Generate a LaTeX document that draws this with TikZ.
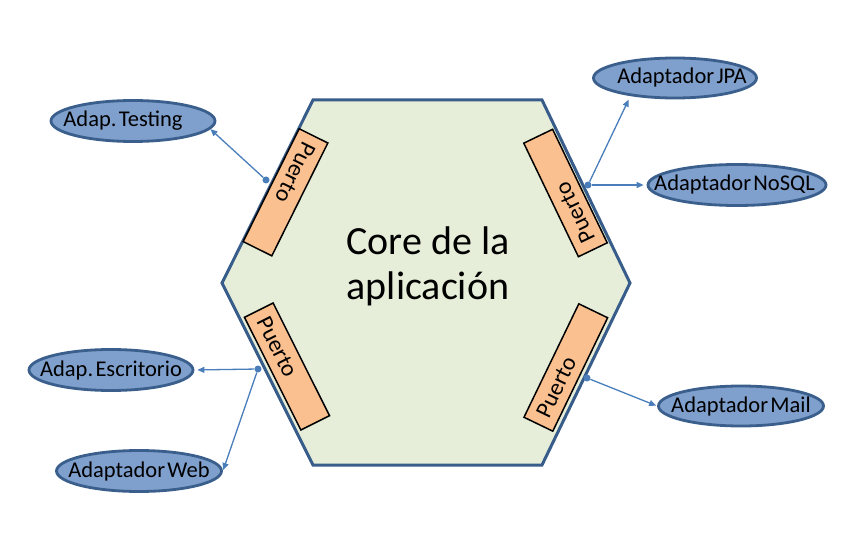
\documentclass[tikz,border=0pt]{standalone}
\usepackage{fontspec}
\setmainfont{Carlito}
\usetikzlibrary{arrows.meta,shapes.geometric}
\definecolor{hexfill}{HTML}{E6EED9}
\definecolor{hexline}{HTML}{385D8A}
\definecolor{portfill}{HTML}{FAC090}
\definecolor{adfill}{HTML}{7F9FCC}
\definecolor{adline}{HTML}{3A5F8C}
\definecolor{conn}{HTML}{4A7EBB}
\newcommand\wgap{\hspace*{2.3pt}}
\begin{document}
\begin{tikzpicture}[x=1pt,y=-1pt,
  portbox/.style={draw=black, line width=1.5pt, fill=portfill, minimum width=126pt,
    minimum height=32pt, inner sep=0pt, font=\fontsize{23.5}{26}\selectfont},
  adapter/.style={ellipse, draw=adline, line width=2.8pt, fill=adfill, minimum width=164pt,
    minimum height=41pt, inner sep=0pt, font=\fontsize{22.5}{26}\selectfont},
  link/.style={draw=conn, line width=1.3pt, -{Triangle[length=7pt,width=6pt]}},
  dotc/.style={circle, fill=conn, inner sep=0pt, minimum size=7pt}
]
\useasboundingbox (0,0) rectangle (867,545);
\fill[white] (0,0) rectangle (867,545);

% hexagon (application core)
\draw[hexline, fill=hexfill, line width=3pt]
  (313,100) -- (542,100) -- (630,283) -- (542,465) -- (313,465) -- (222,283) -- cycle;
\node[font=\fontsize{40}{45}\selectfont, align=center, inner sep=0pt] (core) at (428,266)
  {Core de la\\aplicación};

% ports
\node[portbox, rotate=-116.4] (p1) at (285.5,192.3) {\makebox[0pt]{\hspace*{-44pt}Puerto}};
\node[portbox, rotate=115.7] (p2) at (565.5,193) {\makebox[0pt]{\hspace*{-44pt}Puerto}};
\node[portbox, rotate=-63.4] (p3) at (287,366.5) {\makebox[0pt]{\hspace*{-44pt}Puerto}};
\node[portbox, rotate=64.2] (p4) at (565.8,367.5) {\makebox[0pt]{\hspace*{-44pt}Puerto}};

% adapters
\node[adapter] (testing) at (133,121) {\makebox[0pt]{\hspace*{-20pt}Adap.\wgap Testing}};
\node[adapter, minimum width=163pt, minimum height=40pt] (jpa) at (675,78) {\makebox[0pt]{\hspace*{14pt}Adaptador\wgap JPA}};
\node[adapter, minimum width=178pt] (nosql) at (737,185) {\makebox[0pt]{\hspace*{-5pt}Adaptador\wgap NoSQL}};
\node[adapter] (esc) at (111,370) {\makebox[0pt]{Adap.\wgap Escritorio}};
\node[adapter, minimum width=165pt] (web) at (139,471) {\makebox[0pt]{Adaptador\wgap Web}};
\node[adapter, minimum width=165pt, minimum height=40pt] (mail) at (741,406) {\makebox[0pt]{Adaptador\wgap Mail}};

% connection points
\node[dotc] (d1) at (266,180) {};
\node[dotc] (d2) at (588,185) {};
\node[dotc] (d3) at (258,369) {};
\node[dotc] (d4) at (587,378) {};

% connectors
\draw[link] (d1) -- (testing.-6.6);
\draw[link, shorten >=4pt] (d2) -- (jpa.202.7);
\draw[link, shorten >=3pt] (d2) -- (nosql.west);
\draw[link, shorten >=3pt] (d3) -- (esc.east);
\draw[link, shorten >=1pt] (d3) -- (web.east);
\draw[link, shorten >=1pt] (d4) -- (mail.west);
\end{tikzpicture}
\end{document}
